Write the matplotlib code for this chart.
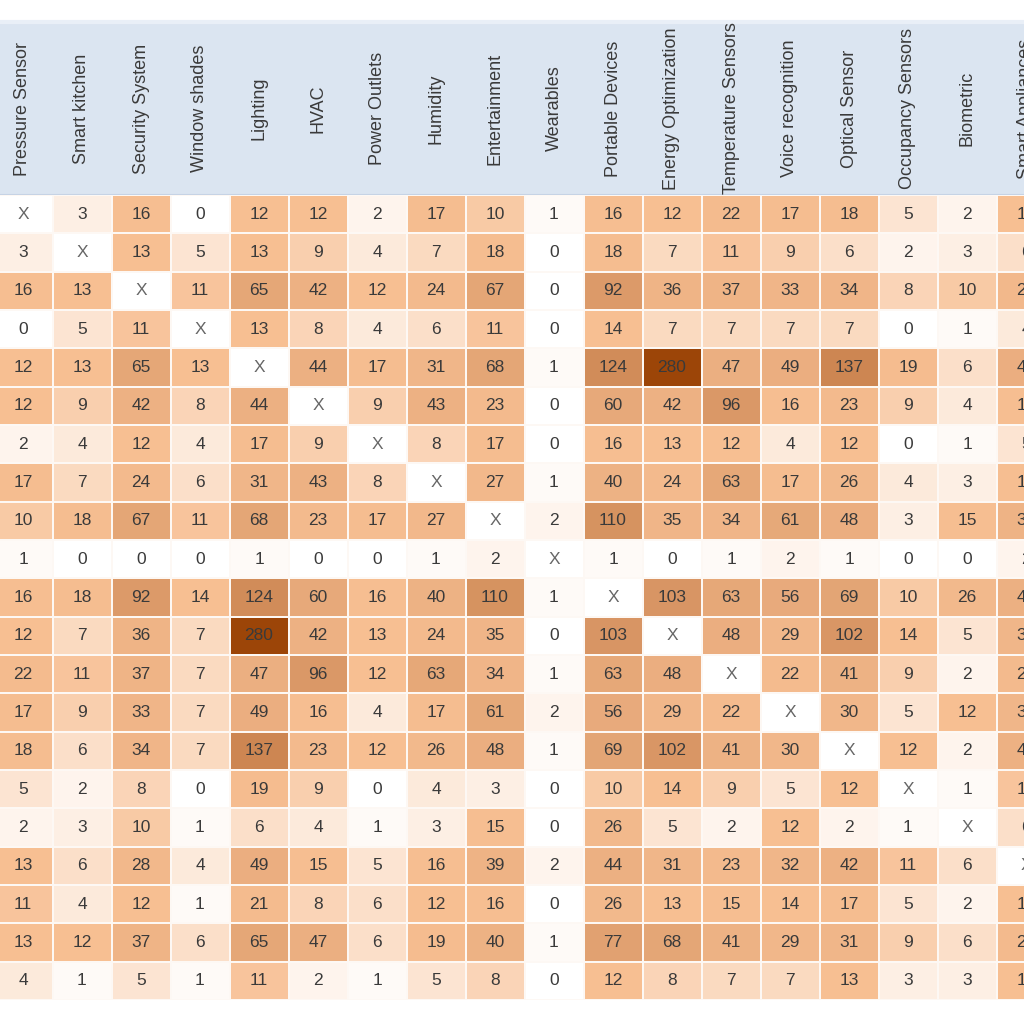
"""Co-occurrence table of smart-home topics, rendered as an Excel-style heat map."""
import matplotlib
matplotlib.use("Agg")
import matplotlib.pyplot as plt
from matplotlib.colors import LinearSegmentedColormap, TwoSlopeNorm
import numpy as np

# --- data -------------------------------------------------------------------
categories = [
    "Pressure Sensor", "Smart kitchen", "Security System", "Window shades", "Lighting",
    "HVAC", "Power Outlets", "Humidity", "Entertainment", "Wearables", "Portable Devices",
    "Energy Optimization", "Temperature Sensors", "Voice recognition", "Optical Sensor",
    "Occupancy Sensors", "Biometric", "Smart Appliances",
]

X = None  # diagonal cell (topic with itself)
counts = [
    [X, 3, 16, 0, 12, 12, 2, 17, 10, 1, 16, 12, 22, 17, 18, 5, 2, 13],
    [3, X, 13, 5, 13, 9, 4, 7, 18, 0, 18, 7, 11, 9, 6, 2, 3, 6],
    [16, 13, X, 11, 65, 42, 12, 24, 67, 0, 92, 36, 37, 33, 34, 8, 10, 28],
    [0, 5, 11, X, 13, 8, 4, 6, 11, 0, 14, 7, 7, 7, 7, 0, 1, 4],
    [12, 13, 65, 13, X, 44, 17, 31, 68, 1, 124, 280, 47, 49, 137, 19, 6, 49],
    [12, 9, 42, 8, 44, X, 9, 43, 23, 0, 60, 42, 96, 16, 23, 9, 4, 15],
    [2, 4, 12, 4, 17, 9, X, 8, 17, 0, 16, 13, 12, 4, 12, 0, 1, 5],
    [17, 7, 24, 6, 31, 43, 8, X, 27, 1, 40, 24, 63, 17, 26, 4, 3, 16],
    [10, 18, 67, 11, 68, 23, 17, 27, X, 2, 110, 35, 34, 61, 48, 3, 15, 39],
    [1, 0, 0, 0, 1, 0, 0, 1, 2, X, 1, 0, 1, 2, 1, 0, 0, 2],
    [16, 18, 92, 14, 124, 60, 16, 40, 110, 1, X, 103, 63, 56, 69, 10, 26, 44],
    [12, 7, 36, 7, 280, 42, 13, 24, 35, 0, 103, X, 48, 29, 102, 14, 5, 31],
    [22, 11, 37, 7, 47, 96, 12, 63, 34, 1, 63, 48, X, 22, 41, 9, 2, 23],
    [17, 9, 33, 7, 49, 16, 4, 17, 61, 2, 56, 29, 22, X, 30, 5, 12, 32],
    [18, 6, 34, 7, 137, 23, 12, 26, 48, 1, 69, 102, 41, 30, X, 12, 2, 42],
    [5, 2, 8, 0, 19, 9, 0, 4, 3, 0, 10, 14, 9, 5, 12, X, 1, 11],
    [2, 3, 10, 1, 6, 4, 1, 3, 15, 0, 26, 5, 2, 12, 2, 1, X, 6],
    [13, 6, 28, 4, 49, 15, 5, 16, 39, 2, 44, 31, 23, 32, 42, 11, 6, X],
    [11, 4, 12, 1, 21, 8, 6, 12, 16, 0, 26, 13, 15, 14, 17, 5, 2, 14],
    [13, 12, 37, 6, 65, 47, 6, 19, 40, 1, 77, 68, 41, 29, 31, 9, 6, 24],
    [4, 1, 5, 1, 11, 2, 1, 5, 8, 0, 12, 8, 7, 7, 13, 3, 3, 12],
]

# --- style ------------------------------------------------------------------
FONT = ["Liberation Sans", "DejaVu Sans"]
HEADER_BG = "#dbe5f1"
TEXT = "#3a3a3a"
# white -> peach up to the median-ish value, then peach -> dark brown (3-colour scale)
CMAP = LinearSegmentedColormap.from_list("excel3", ["#ffffff", "#f7bf93", "#9c4508"])
NORM = TwoSlopeNorm(vmin=0, vcenter=12, vmax=280)

# pixel geometry of the (cropped) screenshot
FIG_PX = 1024
COL_W, COL0_LEFT = 59.0, -6.5
HEAD_TOP, GRID_TOP, GRID_BOTTOM = 22, 195, 1000


def main() -> None:
    plt.rcParams["font.family"] = FONT
    M = np.array([[np.nan if v is None else v for v in row] for row in counts], dtype=float)
    n_rows, n_cols = M.shape

    fig = plt.figure(figsize=(FIG_PX / 100, FIG_PX / 100), dpi=100)
    x0 = -COL0_LEFT / COL_W
    x1 = (FIG_PX - COL0_LEFT) / COL_W

    # --- header band with rotated column names ---
    axh = fig.add_axes([0, 1 - GRID_TOP / FIG_PX, 1, (GRID_TOP - HEAD_TOP) / FIG_PX])
    axh.set_facecolor(HEADER_BG)
    axh.set_xlim(x0, x1)
    axh.set_ylim(0, 1)
    axh.set_xticks([])
    axh.set_yticks([])
    for side in ("left", "right"):
        axh.spines[side].set_visible(False)
    axh.spines["top"].set_color("#e9eff7")
    axh.spines["top"].set_linewidth(3)
    axh.spines["bottom"].set_color("#c6d3e5")
    axh.spines["bottom"].set_linewidth(1.5)
    for j, name in enumerate(categories):
        axh.text(j + 0.5, 0.5, name, rotation=90, ha="center", va="center",
                 fontsize=13, color=TEXT)

    # --- the heat map itself ---
    ax = fig.add_axes([0, 1 - GRID_BOTTOM / FIG_PX, 1, (GRID_BOTTOM - GRID_TOP) / FIG_PX])
    masked = np.ma.masked_invalid(M)
    cm = CMAP.copy()
    cm.set_bad("#ffffff")
    ax.pcolormesh(np.arange(n_cols + 1), np.arange(n_rows + 1), masked, cmap=cm, norm=NORM,
                  edgecolors="#fdf8f4", linewidth=0.2)
    ax.set_xlim(x0, x1)
    ax.set_ylim(n_rows, 0)
    ax.axis("off")
    for i in range(n_rows):
        for j in range(n_cols):
            v = M[i, j]
            label = "X" if np.isnan(v) else f"{int(v)}"
            ax.text(j + 0.5, i + 0.5, label, ha="center", va="center", fontsize=12.5,
                    color="#666666" if np.isnan(v) else TEXT)

    fig.savefig("out.png", dpi=100, facecolor="white")
    plt.close(fig)


if __name__ == "__main__":
    main()
